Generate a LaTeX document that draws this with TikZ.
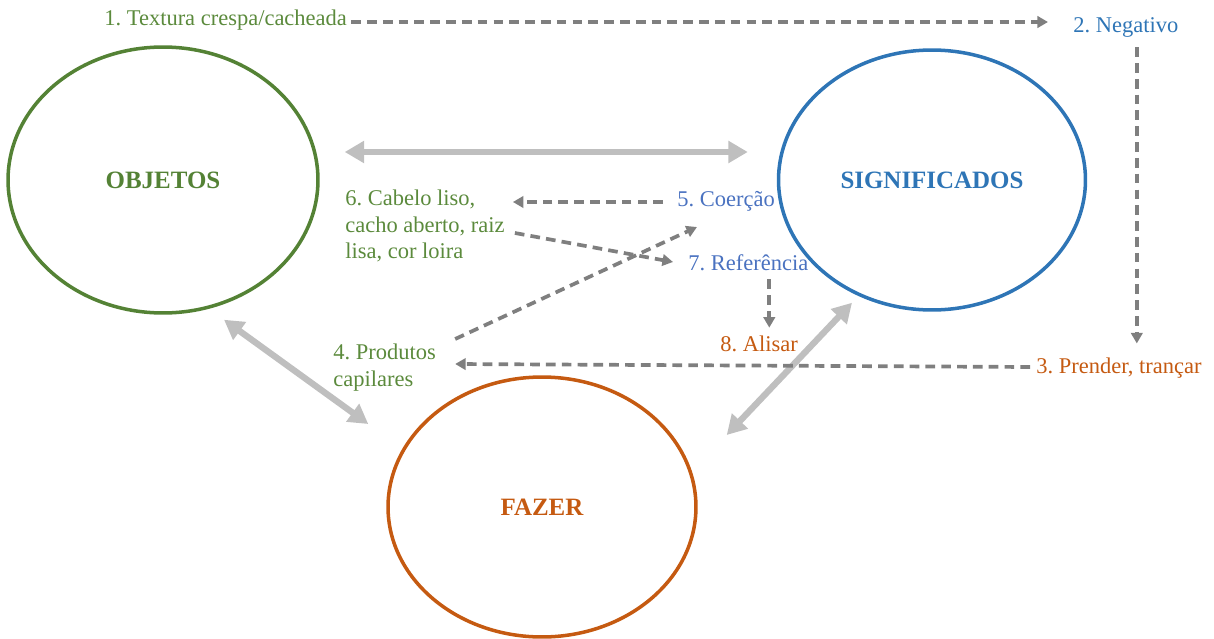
\documentclass[tikz,border=0pt]{standalone}
\usepackage{fontspec}
\setmainfont{Liberation Serif}
\newfontfamily\diagfont{Liberation Serif}
\frenchspacing
\usetikzlibrary{arrows.meta,shapes.geometric,calc}
\definecolor{objgreen}{HTML}{548235}
\definecolor{txtgreen}{HTML}{5B8A3C}
\definecolor{sigblue}{HTML}{2E75B6}
\definecolor{txtblue}{HTML}{4A72C0}
\definecolor{fazorange}{HTML}{C55A11}
\definecolor{dashgray}{HTML}{7F7F7F}
\definecolor{biggray}{HTML}{BFBFBF}
\tikzset{
  circ/.style={ellipse, line width=2pt, inner sep=0pt,
    font=\diagfont\fontsize{14.2}{17}\selectfont\bfseries},
  lbl/.style={inner sep=0pt, anchor=west, align=left,
    font=\diagfont\fontsize{12.8}{15.3}\selectfont},
  dasharrow/.style={draw=dashgray, line width=2.1pt,
    dash pattern=on 5.5pt off 3.5pt, -{Triangle[length=6pt,width=6.5pt]}},
  bigarrow/.style={draw=biggray, line width=3.6pt,
    {Triangle[length=11pt,width=12pt]}-{Triangle[length=11pt,width=12pt]}}
}
\begin{document}
\begin{tikzpicture}[x=0.02cm,y=-0.02cm]
\useasboundingbox (0,0) rectangle (1214,639);

% the three domains
\node[circ, draw=objgreen, text=objgreen, minimum width=6.2cm, minimum height=5.32cm] (obj) at (163,180) {OBJETOS};
\node[circ, draw=sigblue, text=sigblue, minimum width=6.14cm, minimum height=5.2cm] (sig) at (932,180) {SIGNIFICADOS};
\node[circ, draw=fazorange, text=fazorange, minimum width=6.16cm, minimum height=5.2cm] (faz) at (542,507) {FAZER};

% numbered steps
\node[lbl, text=txtgreen] (t1) at (104,20) {1. Textura crespa/cacheada};
\node[lbl, text=sigblue] (t2) at (1073,27) {2. Negativo};
\node[lbl, text=fazorange] (t3) at (1036,368) {3. Prender, trançar};
\node[lbl, text=txtgreen] (t4) at (333,368) {4. Produtos\\capilares};
\node[lbl, text=txtblue] (t5) at (677,201) {5. Coerção};
\node[lbl, text=txtgreen] (t6) at (345,226) {6. Cabelo liso,\\cacho aberto, raiz\\lisa, cor loira};
\node[lbl, text=txtblue] (t7) at (688,263) {7. Referência};
\node[lbl, text=fazorange] (t8) at (720,344) {8. Alisar};

% links between the domains
\draw[bigarrow] ($(obj.east)+(25,-28)$) -- ($(sig.west)+(-29,-28)$);
\draw[bigarrow] ($(obj.south)+(61,5)$) -- ($(faz.west)+(-18,-83)$);
\draw[bigarrow] ($(sig.south)+(-80,-9)$) -- ($(faz.east)+(29,-72)$);

% sequence of steps
\draw[dasharrow] ($(t1.east)+(4,2)$) -- ($(t2.west |- t1.east)+(-25,2)$);
\draw[dasharrow] ($(t2.south)+(11,10)$) -- ($(t2.south |- t3.north)+(11,-14)$);
\draw[dasharrow] ($(t3.west)+(-6,-1)$) -- ($(t4.east)+(19,-4)$);
\draw[dasharrow] ($(t4.north east)+(19,-5)$) -- ($(t5.west)+(20,26)$);
\draw[dasharrow] ($(t5.west)+(-14,1)$) -- ($(t6.east)+(8,-24)$);
\draw[dasharrow] ($(t6.east)+(10,7)$) -- ($(t7.west)+(-15,-1)$);
\draw[dasharrow] ($(t7.south)+(21,8)$) -- ($(t7.south |- t8.north)+(21,-8)$);
\end{tikzpicture}
\end{document}
